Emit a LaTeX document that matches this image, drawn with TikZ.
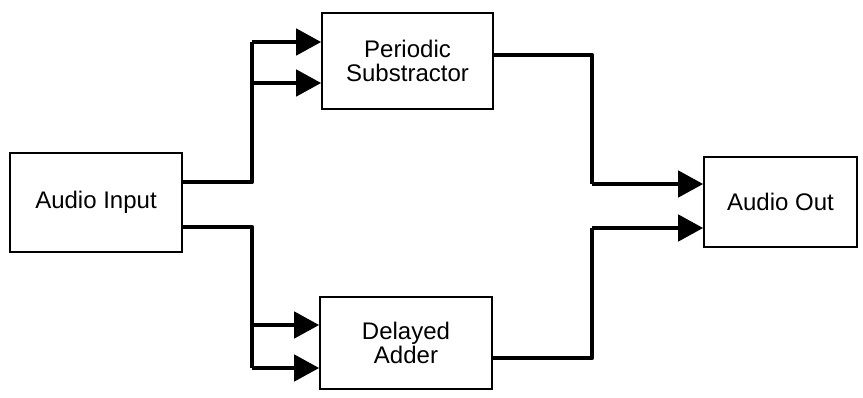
\documentclass[tikz,border=0pt]{standalone}
\usepackage{fontspec}
\setmainfont{Liberation Sans}
\usetikzlibrary{arrows.meta}
\begin{document}
\begin{tikzpicture}[x=1pt,y=-1pt,
  blk/.style={draw, line width=1.6pt, align=center, font=\fontsize{24}{23.5}\selectfont, inner sep=0pt},
  wire/.style={line width=4.5pt, line join=round},
  arr/.style={wire, -{Triangle[length=25pt,width=26pt]}}]
\useasboundingbox (0,0) rectangle (863,397);
\node[blk, minimum width=172pt, minimum height=99pt] (ai) at (96,202.5) {Audio Input};
\node[blk, minimum width=171pt, minimum height=96pt] (ps) at (407.5,61) {Periodic\\Substractor};
\node[blk, minimum width=172pt, minimum height=92pt] (da) at (406,343) {Delayed\\Adder};
\node[blk, minimum width=153pt, minimum height=90pt] (ao) at (780.5,202) {Audio Out};
% branch coordinates
\coordinate (j1) at (252,182);
\coordinate (p1) at (252,42);
\coordinate (p2) at (252,83);
\coordinate (j2) at (252,227);
\coordinate (d1) at (252,325);
\coordinate (d2) at (252,368);
\coordinate (q1) at (592,55);
\coordinate (o1) at (592,184);
\coordinate (q2) at (592,358);
\coordinate (o2) at (592,228);
% input to periodic
\draw[wire] (ai.east |- j1) -- (j1) -- (p1);
\draw[arr] (p1) -- (ps.west |- p1);
\draw[arr] (p2) -- (ps.west |- p2);
% input to delayed
\draw[wire] (ai.east |- j2) -- (j2) -- (d2);
\draw[arr] (d1) -- (da.west |- d1);
\draw[arr] (d2) -- (da.west |- d2);
% outputs
\draw[wire] (ps.east |- q1) -- (q1) -- (o1);
\draw[arr] (o1) -- (ao.west |- o1);
\draw[wire] (da.east |- q2) -- (q2) -- (o2);
\draw[arr] (o2) -- (ao.west |- o2);
\end{tikzpicture}
\end{document}
